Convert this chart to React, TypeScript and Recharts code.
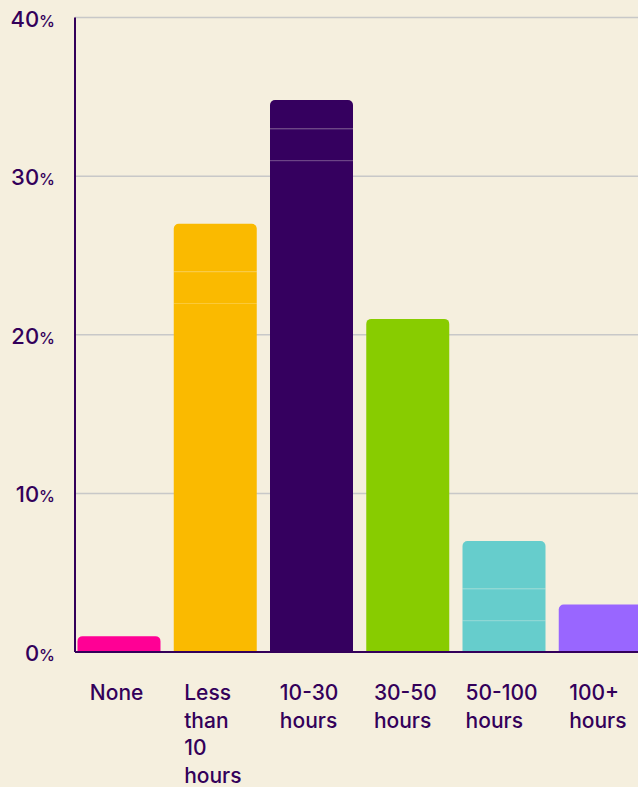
import React from "react";
import { BarChart, Bar, XAxis, YAxis, CartesianGrid, Cell } from "recharts";

const categories = ["None", "Less than 10 hours", "10-30 hours", "30-50 hours", "50-100 hours", "100+ hours"];
// stacked segments (the original bars show faint seams between segments)
const segmentA = [0, 22, 31, 0, 2, 0];
const segmentB = [0, 2, 2, 0, 2, 0];
const segmentC = [1, 3, 1.8, 21, 3, 3];
const colors = ["#FF0095", "#FABA00", "#35005F", "#88CC00", "#66CDCC", "#9966FF"];
const yTicks = [0, 10, 20, 30, 40];

const TEXT = "#33005A";
const FONT = "Inter, 'Noto Sans', sans-serif";

const data = categories.map((name, i) => ({
  name,
  a: segmentA[i],
  b: segmentB[i],
  c: segmentC[i],
  color: colors[i],
}));

let ctx: CanvasRenderingContext2D | null = null;
function measure(text: string, font: string): number {
  if (!ctx) {
    const c = document.createElement("canvas");
    ctx = c.getContext("2d");
  }
  if (!ctx) return text.length * 11;
  ctx.font = font;
  return ctx.measureText(text).width;
}

const SeamShape = (props: any) => {
  const { x, y, width, height, payload } = props;
  if (!height || height <= 0) return null;
  return (
    <g>
      <rect x={x} y={y} width={width} height={height} fill={payload.color} />
      <line x1={x} x2={x + width} y1={y + 0.5} y2={y + 0.5} stroke="rgba(255,255,255,0.22)" strokeWidth={1} />
    </g>
  );
};

const XTick = (props: any) => {
  const { x, y, payload } = props;
  const lines = String(payload.value).split(" ");
  const font = `500 21px Inter`;
  const maxW = Math.max(...lines.map((l) => measure(l, font)));
  const left = x - maxW / 2 - 2;
  return (
    <text x={left} y={y + 48} fill={TEXT} fontFamily={FONT} fontWeight={500} fontSize={21} textAnchor="start">
      {lines.map((l, i) => (
        <tspan key={i} x={left} dy={i === 0 ? 0 : 27.7}>
          {l}
        </tspan>
      ))}
    </text>
  );
};

const YTick = (props: any) => {
  const { x, y, payload } = props;
  return (
    <text x={x} y={y + 9} fill={TEXT} fontFamily={FONT} fontWeight={500} textAnchor="end">
      <tspan fontSize={22}>{payload.value}</tspan>
      <tspan fontSize={16}>%</tspan>
    </text>
  );
};

export default function App() {
  return (
    <div
      style={{
        position: "absolute",
        left: 0,
        top: 0,
        width: 638,
        height: 787,
        overflow: "hidden",
        background: "#F5EFDE",
      }}
    >
      <BarChart
        width={648}
        height={787}
        data={data}
        margin={{ top: 17.5, right: 0, left: 0, bottom: 0 }}
        barSize={83}
      >
        <CartesianGrid vertical={false} stroke="#C8C8C8" strokeWidth={1.5} />
        <XAxis
          dataKey="name"
          height={135}
          padding={{ left: -4.5, right: 0 }}
          axisLine={{ stroke: TEXT, strokeWidth: 2 }}
          tickLine={false}
          tickSize={0}
          tickMargin={0}
          interval={0}
          tick={<XTick />}
        />
        <YAxis
          width={75}
          domain={[0, 40]}
          ticks={yTicks}
          axisLine={{ stroke: TEXT, strokeWidth: 2 }}
          tickLine={false}
          tickSize={0}
          tickMargin={20}
          tick={<YTick />}
        />
        <Bar dataKey="a" stackId="s" isAnimationActive={false} shape={<SeamShape />} />
        <Bar dataKey="b" stackId="s" isAnimationActive={false} shape={<SeamShape />} />
        <Bar dataKey="c" stackId="s" isAnimationActive={false} radius={[5, 5, 0, 0]}>
          {data.map((d, i) => (
            <Cell key={i} fill={d.color} />
          ))}
        </Bar>
      </BarChart>
    </div>
  );
}
